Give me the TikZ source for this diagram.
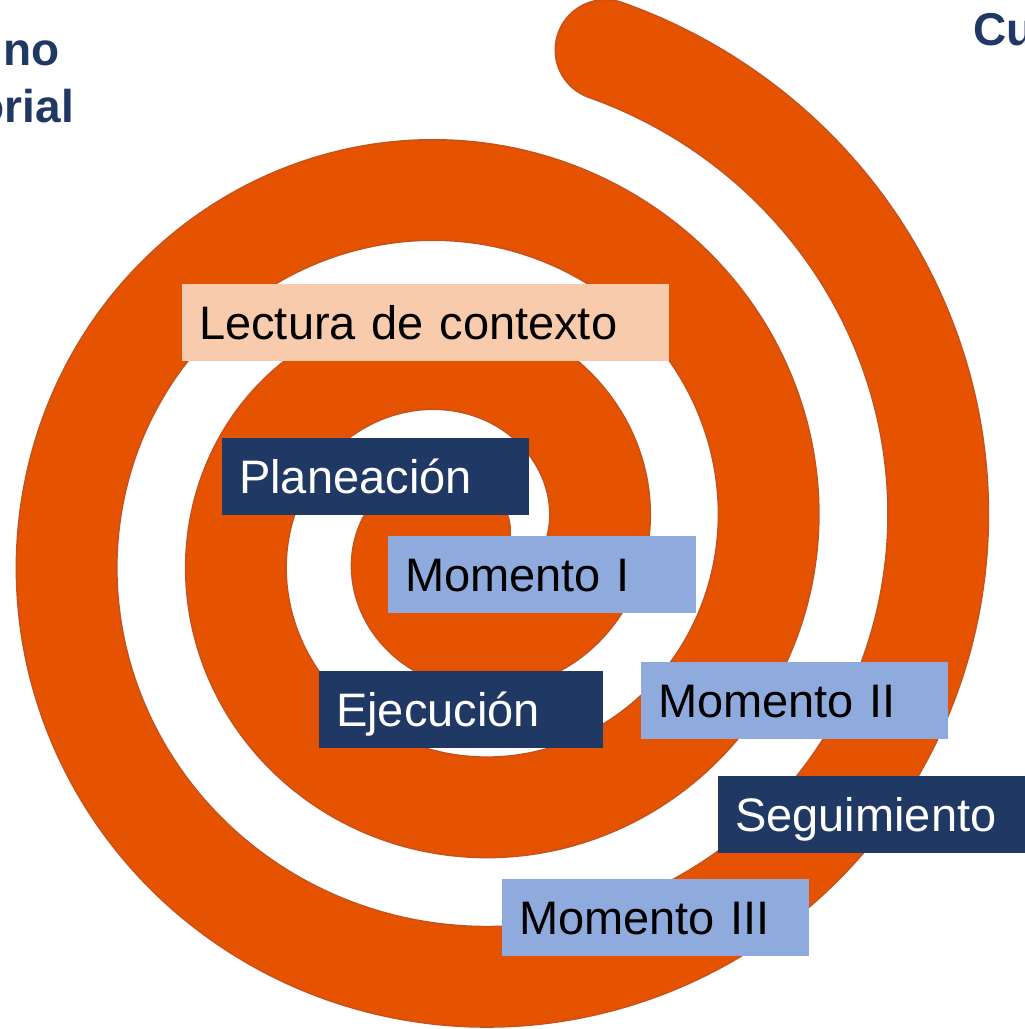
\documentclass[tikz,border=0pt]{standalone}
\usepackage{fontspec}
\setmainfont{Liberation Sans}
\usepackage{xcolor}
\usepackage{tikz}

\definecolor{spiralorange}{RGB}{230,83,0}
\definecolor{spiraledge}{RGB}{196,82,30}
\definecolor{navy}{RGB}{32,56,100}
\definecolor{lightblue}{RGB}{143,170,220}
\definecolor{peach}{RGB}{248,203,173}

\tikzset{
  stagebox/.style={rectangle, anchor=north west, inner xsep=17pt, inner ysep=0pt,
    minimum height=77pt, align=left, text height=33.7pt, text depth=0pt,
    font=\fontsize{47}{56}\selectfont},
  navybox/.style={stagebox, fill=navy, text=white},
  bluebox/.style={stagebox, fill=lightblue, text=black},
  peachbox/.style={stagebox, fill=peach, text=black},
  cornertext/.style={inner sep=0pt, text=navy, font=\fontsize{46}{55}\selectfont\bfseries}
}

\begin{document}
\begin{tikzpicture}[x=1pt,y=-1pt]
\useasboundingbox (0,0) rectangle (1025,1029);

% spiral
\begin{scope}[line cap=round, line join=round]
    \draw[spiraledge, line width=102pt] plot[domain=-270:793.5, samples=500, smooth]
        ({460+(137.5+0.4722*\x)*cos(\x)},{541-(137.5+0.4722*\x)*sin(\x)});
    \draw[spiralorange, line width=99pt] plot[domain=-270:793.5, samples=500, smooth]
        ({460+(137.5+0.4722*\x)*cos(\x)},{541-(137.5+0.4722*\x)*sin(\x)});
\end{scope}

% stages
\node[peachbox, text width=453pt] (lectura) at (182,284) {Lectura de contexto};
\node[navybox, text width=273pt] (planeacion) at (222,438) {Planeación};
\node[bluebox, text width=274pt] (momentoI) at (388,536) {Momento I};
\node[navybox, text width=250pt] (ejecucion) at (319,671) {Ejecución};
\node[bluebox, text width=273pt] (momentoII) at (641,662) {Momento II};
\node[navybox, text width=273pt] (seguimiento) at (718,776) {Seguimiento};
\node[bluebox, text width=273pt] (momentoIII) at (502,879) {Momento III};

% titles cut by the page edge
\node[cornertext, anchor=base east] (titleA) at (60,65) {no};
\node[cornertext, anchor=base east] (titleB) at (74,122) {orial};
\node[cornertext, anchor=base west] (titleC) at (973,45) {Cu};

\end{tikzpicture}
\end{document}
